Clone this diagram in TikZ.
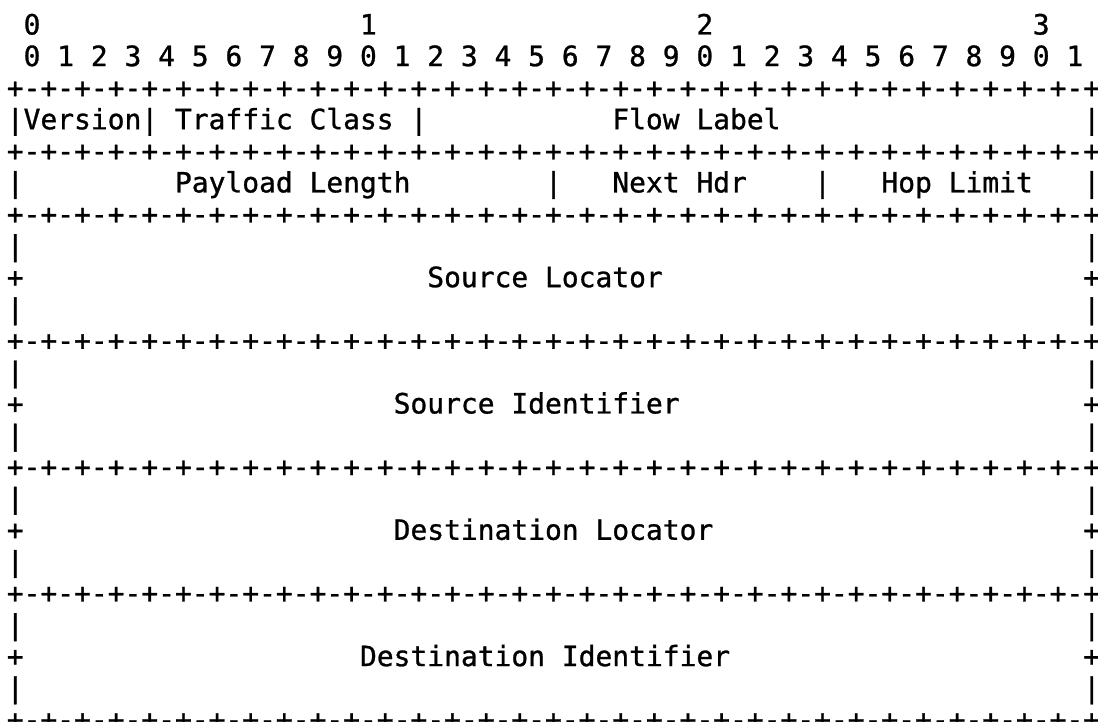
\documentclass[tikz,border=0pt]{standalone}
\usepackage{fontspec}
\setmonofont[RawFeature={embolden=1.0}]{DejaVu Sans Mono}
\newcommand\oct{+-+-+-+-+-+-+-+-}
\newcommand\bline{\oct\oct\oct\oct+}
% \cell{name}{row}{column}{text}
\newcommand\cell[4]{\node[txt] (#1) at ({6.8+#3*16.82},{-34.5-(#2-1)*31.58}) {#4};}
\begin{document}
\begin{tikzpicture}[x=1pt,y=1pt,
  txt/.style={anchor=base west, inner sep=0pt, outer sep=0pt, text=black,
    font=\ttfamily\fontsize{27.94}{30}\selectfont}]
\useasboundingbox (0,0) rectangle (1098,-722);
% bit ruler
\cell{t0}{1}{1}{0}
\cell{t1}{1}{21}{1}
\cell{t2}{1}{41}{2}
\cell{t3}{1}{61}{3}
\cell{bits}{2}{1}{0 1 2 3 4 5 6 7 8 9 0 1 2 3 4 5 6 7 8 9 0 1 2 3 4 5 6 7 8 9 0 1}
% border lines
\cell{b3}{3}{0}{\bline}
\cell{b5}{5}{0}{\bline}
\cell{b7}{7}{0}{\bline}
\cell{b11}{11}{0}{\bline}
\cell{b15}{15}{0}{\bline}
\cell{b19}{19}{0}{\bline}
\cell{b23}{23}{0}{\bline}
% row 4
\cell{verTc}{4}{0}{|Version| Traffic Class |}
\cell{flow}{4}{36}{Flow Label}
\cell{r4e}{4}{64}{|}
% row 6
\cell{r6a}{6}{0}{|}
\cell{plen}{6}{10}{Payload Length}
\cell{r6b}{6}{32}{|}
\cell{nhdr}{6}{36}{Next Hdr}
\cell{r6c}{6}{48}{|}
\cell{hop}{6}{52}{Hop Limit}
\cell{r6e}{6}{64}{|}
% side bars
\foreach \r in {8,10,12,14,16,18,20,22}{
  \cell{sl\r}{\r}{0}{|}
  \cell{sr\r}{\r}{64}{|}
}
\foreach \r in {9,13,17,21}{
  \cell{pl\r}{\r}{0}{+}
  \cell{pr\r}{\r}{64}{+}
}
% field labels
\cell{sloc}{9}{25}{Source Locator}
\cell{sid}{13}{23}{Source Identifier}
\cell{dloc}{17}{23}{Destination Locator}
\cell{did}{21}{21}{Destination Identifier}
\end{tikzpicture}
\end{document}
